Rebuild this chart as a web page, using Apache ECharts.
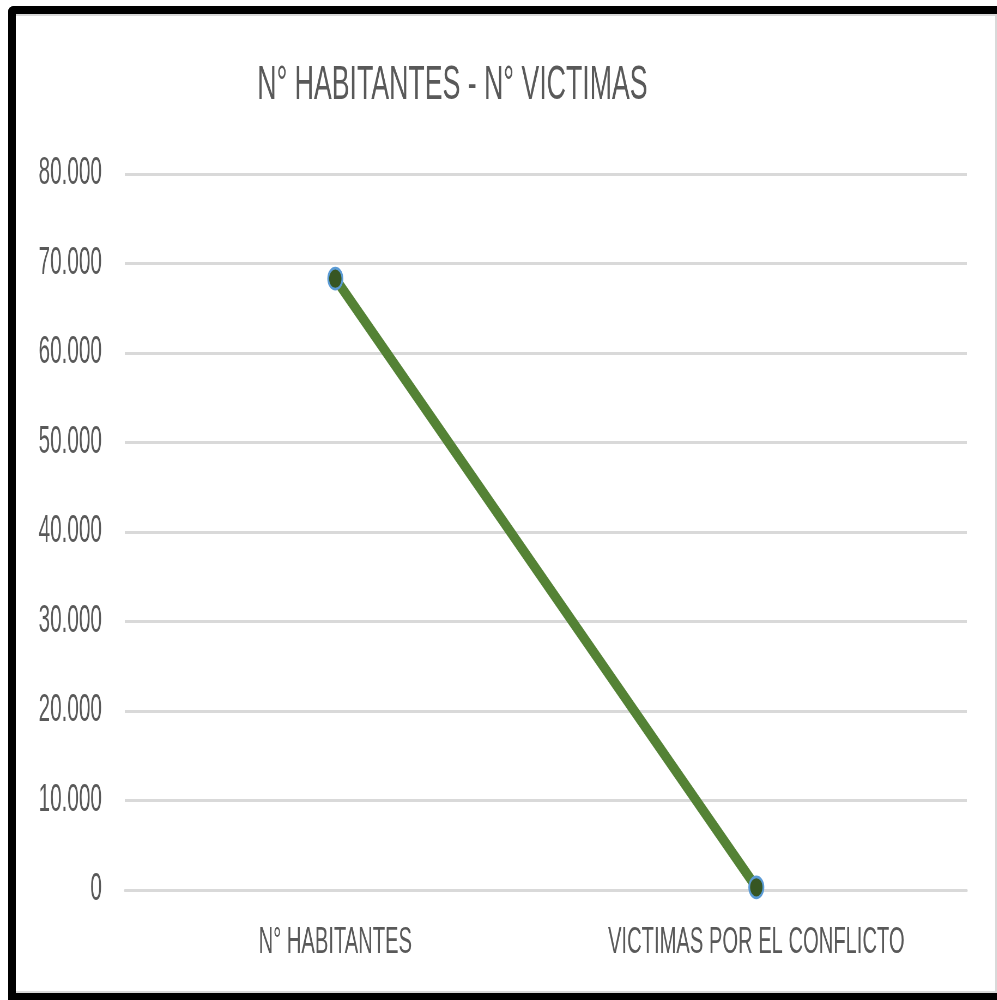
<!DOCTYPE html>
<html>
<head>
<meta charset="utf-8">
<script src="https://cdn.jsdelivr.net/npm/echarts@6/dist/echarts.min.js"></script>
<style>
html,body{margin:0;padding:0;background:#fff;overflow:hidden;width:997px;height:1000px;}
#frame{position:absolute;left:8px;top:6px;right:0;bottom:0;border-left:8px solid #000;border-top:8px solid #000;border-bottom:7px solid #000;border-top-left-radius:6px;box-sizing:border-box;}
#inner{position:absolute;left:0;top:0;right:0;bottom:0;border-top:2px solid #d9d9d9;border-right:2px solid #d9d9d9;border-bottom:2px solid #d9d9d9;box-sizing:border-box;}
#chart{position:absolute;left:0;top:0;width:1830px;height:1000px;transform:scaleX(0.545);transform-origin:0 0;}
</style>
</head>
<body>
<div id="frame"><div id="inner"></div></div>
<div id="chart"></div>
<script>
const titleText = 'N° HABITANTES - N° VICTIMAS';
const categories = ['N° HABITANTES', 'VICTIMAS POR EL CONFLICTO'];
const values = [68300, 300];
const yMin = 0, yMax = 80000, yStep = 10000;

function fmt(v){ return String(v).replace(/\B(?=(\d{3})+(?!\d))/g, '.'); }

const chart = echarts.init(document.getElementById('chart'));
chart.setOption({
  animation: false,
  backgroundColor: 'transparent',
  title: {
    text: titleText,
    left: 472, top: 61, padding: 0,
    textStyle: {fontFamily: 'Liberation Sans', fontSize: 49, fontWeight: 'normal', color: '#595959'}
  },
  grid: {left: 229, right: 56, top: 174, bottom: 110, containLabel: false},
  xAxis: {
    type: 'category',
    data: categories,
    boundaryGap: true,
    axisLine: {show: true, lineStyle: {color: '#d9d9d9', width: 3}},
    axisTick: {show: false},
    axisLabel: {fontFamily: 'Liberation Sans', fontSize: 37, color: '#595959', margin: 34}
  },
  yAxis: {
    type: 'value',
    min: yMin, max: yMax, interval: yStep,
    axisLine: {show: false},
    axisTick: {show: false},
    splitLine: {lineStyle: {color: '#d9d9d9', width: 3}},
    axisLabel: {fontFamily: 'Liberation Sans', fontSize: 38, color: '#595959', margin: 42, formatter: fmt}
  },
  series: [{
    type: 'line',
    data: values,
    lineStyle: {color: '#548235', width: 13},
    symbol: 'circle',
    symbolSize: [26, 21],
    itemStyle: {color: '#375623', borderColor: '#5b9bd5', borderWidth: 3}
  }]
});
</script>
</body>
</html>
